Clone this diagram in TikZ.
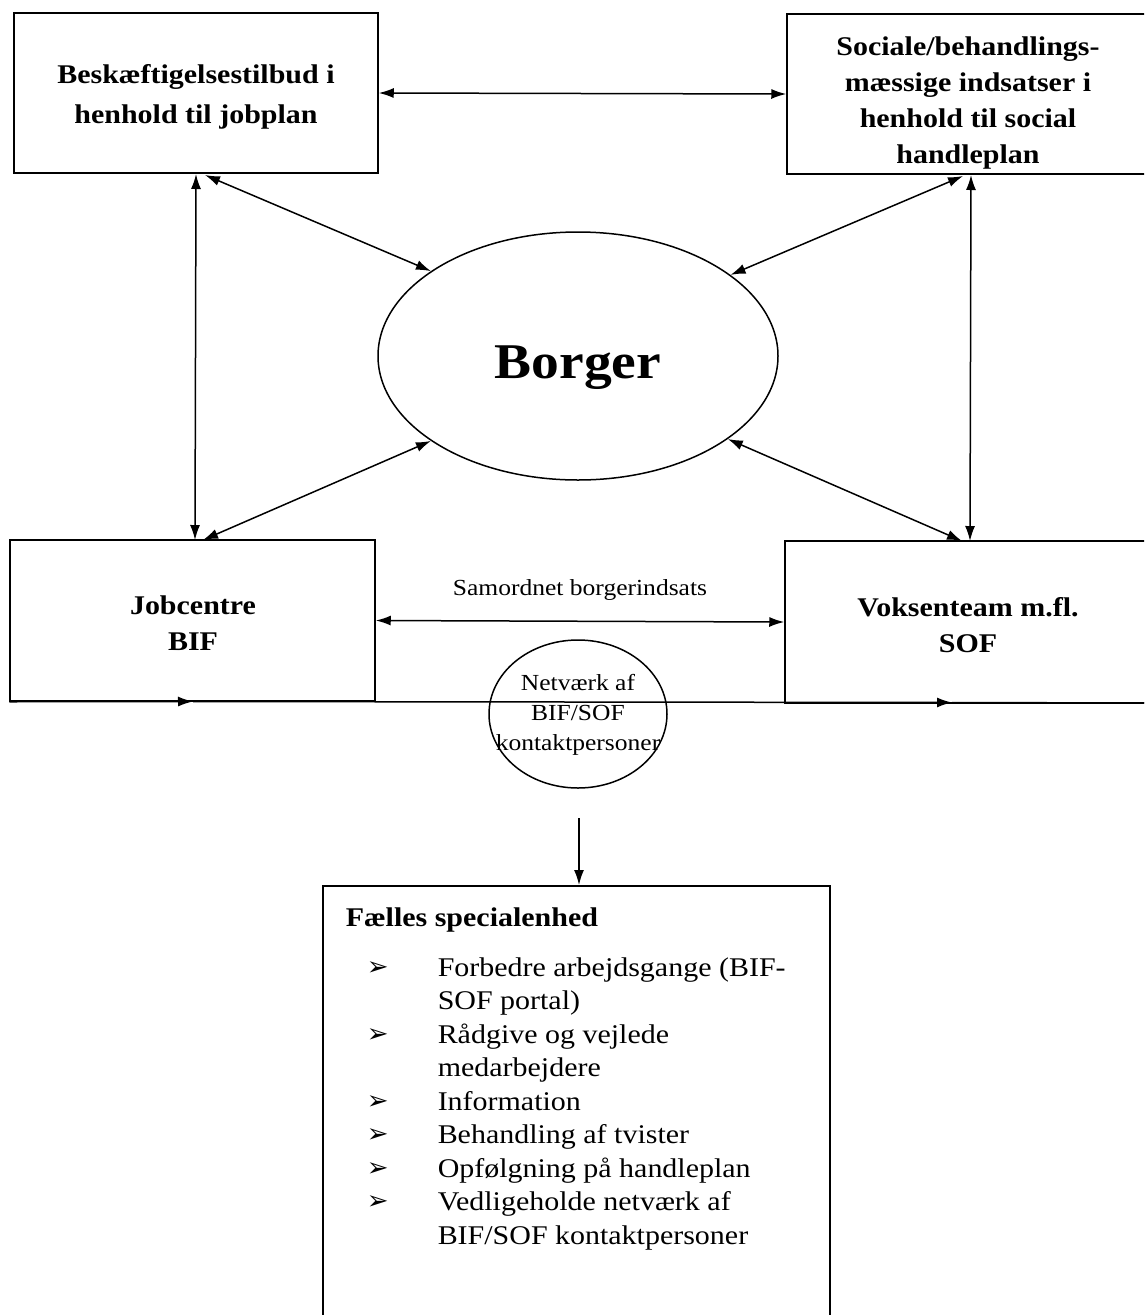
\documentclass[tikz,border=0pt]{standalone}
\usepackage{fontspec}
\setmainfont[FakeStretch=1.11]{Liberation Serif}
\newfontfamily\dejavu{DejaVu Sans}
\usetikzlibrary{arrows.meta,shapes.geometric}
\begin{document}
\begin{tikzpicture}[x=1pt,y=-1pt,
  line width=1.5pt,
  dbl/.style={{Latex[length=15pt,width=10pt]}-{Latex[length=15pt,width=10pt]}},
  one/.style={-{Latex[length=15pt,width=10pt]}},
  box/.style={draw, rectangle, inner sep=0pt, align=center,
    font=\fontsize{27}{36}\selectfont\bfseries},
  boxtext/.style={inner sep=0pt, align=center,
    font=\fontsize{27}{36}\selectfont\bfseries},
  small/.style={inner sep=0pt, align=center, font=\fontsize{23}{30}\selectfont}]
\useasboundingbox (0,0) rectangle (1144,1315);
\clip (0,0) rectangle (1144,1315);
\fill[white] (0,0) rectangle (1144,1315);

% boxes
\node[box, minimum width=364pt, minimum height=160pt] (tl) at (196,93) {};
\node[boxtext, font=\fontsize{27}{40}\selectfont\bfseries] (tltext) at (196,97)
  {Beskæftigelsestilbud i\\henhold til jobplan};
\node[box, minimum width=363pt, minimum height=160pt] (tr) at (968.5,94) {};
\node[boxtext] (trtext) at (968,103)
  {Sociale/behandlings-\\mæssige indsatser i\\henhold til social\\handleplan};
\node[box, minimum width=365pt, minimum height=161pt] (bl) at (192.5,620.5) {};
\node[boxtext] (bltext) at (193,623) {Jobcentre\\BIF};
\node[box, minimum width=365pt, minimum height=162pt] (br) at (967.5,622) {};
\node[boxtext] (brtext) at (968,625) {Voksenteam m.fl.\\SOF};

% central ellipse
\node[draw, ellipse, minimum width=400pt, minimum height=248pt, inner sep=0pt] (bo) at (578,356) {};
\node[inner sep=0pt, font=\fontsize{50}{56}\selectfont\bfseries] (botext) at (578,368) {Borger};

% connector end points on boxes
\coordinate (tlv) at (196,174);
\coordinate (tld) at (205,175);
\coordinate (blv) at (195,540);
\coordinate (bld) at (203,540);
\coordinate (trv) at (971,175);
\coordinate (trd) at (963,176);
\coordinate (brv) at (970,541);
\coordinate (brd) at (962,541);

% connectors
\draw[dbl] (tl.east) -- (tr.west);
\draw[dbl] (bl.east) -- (br.west);
\node[small] (sam) at (580,590) {Samordnet borgerindsats};
\draw[dbl] (tlv) -- (blv);
\draw[dbl] (trv) -- (brv);
\draw[dbl] (tld) -- (bo.150);
\draw[dbl] (trd) -- (bo.28);
\draw[dbl] (bld) -- (bo.210);
\draw[dbl] (brd) -- (bo.331);

% bottom line
\coordinate (l0) at (bl.south west);
\coordinate (a1) at (193,701.5);
\coordinate (a2) at (952,702.5);
\coordinate (l3) at (1150,703);
\draw[one] (l0) -- (a1);
\draw[one] (a1) -- (a2);
\draw (a2) -- (l3);

% network circle
\node[draw, ellipse, minimum width=178pt, minimum height=148pt, inner sep=0pt] (net) at (578,714) {};
\node[small] (nettext) at (578,715) {Netværk af\\BIF/SOF\\kontaktpersoner};

% lower box
\node[draw, rectangle, minimum width=507pt, minimum height=460pt, anchor=north, inner sep=0pt] (fs) at (576.5,885) {};
\coordinate (nd) at (579,818);
\draw[one] (nd) -- (nd |- fs.north);
\node[anchor=base west, inner sep=0pt, font=\fontsize{27}{33}\selectfont\bfseries] (fst) at (345,926) {Fælles specialenhed};
\node[anchor=north west, inner sep=0pt, font=\fontsize{27}{33.5}\selectfont] (lst) at (366,952) {%
  \def\bul{\raisebox{1pt}{\dejavu\fontsize{26}{26}\selectfont ➢}}%
  \begin{tabular}{@{}p{71pt}@{}l@{}}
  \bul & Forbedre arbejdsgange (BIF-\\
       & SOF portal)\\
  \bul & Rådgive og vejlede\\
       & medarbejdere\\
  \bul & Information\\
  \bul & Behandling af tvister\\
  \bul & Opfølgning på handleplan\\
  \bul & Vedligeholde netværk af\\
       & BIF/SOF kontaktpersoner
  \end{tabular}};
\end{tikzpicture}
\end{document}
